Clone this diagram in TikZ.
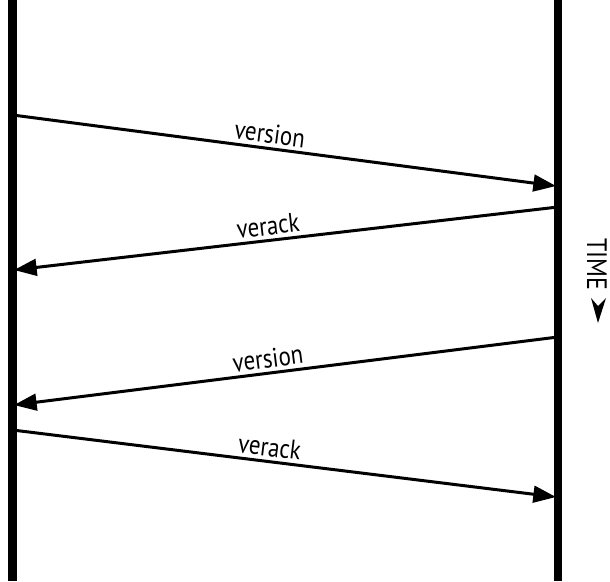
\documentclass[tikz,border=0pt]{standalone}
\usepackage{fontspec}
\setmainfont{PT Sans}[FakeStretch=0.85]
\usetikzlibrary{arrows.meta}

\begin{document}
\begin{tikzpicture}[
    x=0.03cm, y=-0.03cm,
    peer/.style={line width=0.24cm},
    msg/.style={line width=0.09cm, -{Triangle[length=0.68cm, width=0.5cm]}},
    msglabel/.style={sloped, above, inner sep=3pt, font=\fontsize{23}{26}\selectfont}
]
\useasboundingbox (0,0) rectangle (610,581);

% the two peers
\coordinate (nodeAtop) at (12.5,0);
\coordinate (nodeAbot) at (12.5,581);
\coordinate (nodeBtop) at (558,0);
\coordinate (nodeBbot) at (558,581);
\draw[peer] (nodeAtop) -- (nodeAbot);
\draw[peer] (nodeBtop) -- (nodeBbot);

% handshake messages
\coordinate (a1) at (12.5,115);
\coordinate (b1) at (556,186);
\coordinate (b2) at (558,207);
\coordinate (a2) at (14,270);
\coordinate (b3) at (558,337);
\coordinate (a3) at (14,405);
\coordinate (a4) at (12.5,430);
\coordinate (b4) at (556,497);

\draw[msg] (a1) -- node[msglabel, pos=0.47] {version} (b1);
\draw[msg] (b2) -- node[msglabel, pos=0.53] {verack} (a2);
\draw[msg] (b3) -- node[msglabel, pos=0.53] {version} (a3);
\draw[msg] (a4) -- node[msglabel, pos=0.47] {verack} (b4);

% time axis
\node[rotate=-90, font=\fontsize{24}{28}\selectfont, inner sep=0pt] (time) at (597,264) {TIME};
\fill (591,298) -- (598,323) -- (606,298) -- (598,306) -- cycle;
\end{tikzpicture}
\end{document}
